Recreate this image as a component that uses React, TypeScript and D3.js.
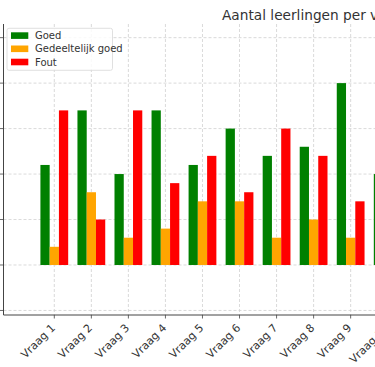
import React from 'react';
import * as d3 from 'd3';

const categories = ['Vraag 1', 'Vraag 2', 'Vraag 3', 'Vraag 4', 'Vraag 5', 'Vraag 6', 'Vraag 7', 'Vraag 8', 'Vraag 9', 'Vraag 10'];
const goed = [11, 17, 10, 17, 11, 15, 12, 13, 20, 10];
const gedeeltelijk = [2, 8, 3, 4, 7, 7, 3, 5, 3, 5];
const fout = [17, 5, 17, 9, 12, 8, 15, 12, 7, 15];
const yTicks = [-5, 0, 5, 10, 15, 20, 25];

const series = [
  { name: 'Goed', values: goed, color: '#008000' },
  { name: 'Gedeeltelijk goed', values: gedeeltelijk, color: '#FFA500' },
  { name: 'Fout', values: fout, color: '#FF0000' },
];

export default function App() {
  const width = 375;
  const height = 367;
  const left = 3.5;
  const top = 24;
  const bottom = 315;

  // scales: category index -> x, value -> y
  const x = d3.scaleLinear().domain([0, 9]).range([54.3, 387.7]);
  const y = d3.scaleLinear().domain([-5.5, 26.5]).range([bottom, top]);
  const step = x(1) - x(0);
  const barW = step * 0.25;
  const font = 'DejaVu Sans, sans-serif';

  return (
    <svg width={width} height={height} style={{ position: 'fixed', left: 0, top: 0, background: '#fff' }} fontFamily={font}>
      {/* grid */}
      <g stroke="#d0d0d0" strokeWidth={0.8} strokeDasharray="3,2">
        {yTicks.map(t => (
          <line key={'h' + t} x1={left} x2={width} y1={y(t)} y2={y(t)} />
        ))}
        {categories.map((c, i) => (
          <line key={'v' + c} x1={x(i)} x2={x(i)} y1={top} y2={bottom} />
        ))}
      </g>

      {/* bars */}
      {series.map((s, si) => (
        <g key={s.name} fill={s.color}>
          {s.values.map((v, i) => (
            <rect key={i}
              x={x(i) + (si - 1) * barW - barW / 2}
              y={y(v)}
              width={barW}
              height={y(0) - y(v)} />
          ))}
        </g>
      ))}

      {/* spines & ticks */}
      <line x1={left} x2={left} y1={top} y2={bottom} stroke="#444" strokeWidth={1} />
      <line x1={left} x2={width} y1={bottom} y2={bottom} stroke="#444" strokeWidth={1} />
      {yTicks.map(t => (
        <line key={'yt' + t} x1={left - 3.5} x2={left} y1={y(t)} y2={y(t)} stroke="#444" strokeWidth={0.8} />
      ))}
      {categories.map((c, i) => (
        <g key={'xt' + c}>
          <line x1={x(i)} x2={x(i)} y1={bottom} y2={bottom + 3.5} stroke="#444" strokeWidth={0.8} />
          <text transform={`translate(${x(i) - 4},${bottom + 8}) rotate(-45)`}
            textAnchor="end" dominantBaseline="hanging" fontSize={11} fill="#333">{c}</text>
        </g>
      ))}

      {/* title */}
      <text x={222} y={20} fontSize={13.7} fill="#333">Aantal leerlingen per vraag</text>

      {/* legend */}
      <rect x={7} y={28.3} width={105.5} height={42} rx={2} fill="#fff" fillOpacity={0.85} stroke="#d8d8d8" strokeWidth={0.8} />
      {series.map((s, i) => (
        <g key={'lg' + s.name} transform={`translate(11,${35.6 + i * 13.2})`}>
          <rect x={0} y={-3.3} width={17.3} height={6.6} fill={s.color} />
          <text x={24} y={0} dy="0.35em" fontSize={10} fill="#333">{s.name}</text>
        </g>
      ))}
    </svg>
  );
}
